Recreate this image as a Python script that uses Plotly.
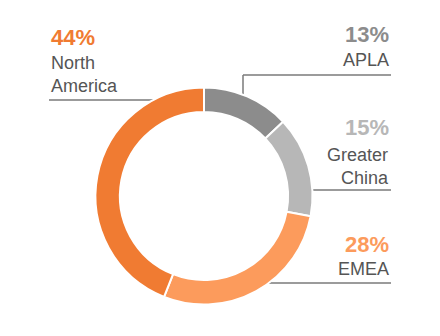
import plotly.graph_objects as go

# Revenue share by region
regions = ["APLA", "Greater China", "EMEA", "North America"]
shares = [13, 15, 28, 44]
label_lines = [["APLA"], ["Greater", "China"], ["EMEA"], ["North", "America"]]

W, H = 440, 336
slice_colors = ["#8c8c8c", "#b7b7b7", "#fc9b5c", "#f07b32"]
name_color = "#555555"
rule_color = "#7a7a7a"
FONT = "Liberation Sans, Arial, Helvetica, sans-serif"


def px(x):
    return x / W


def py(y):
    return 1 - y / H


# Donut: centre (204, 196), outer radius ~108.5 px
cx, cy, r = 204, 196, 108.5

fig = go.Figure(
    go.Pie(
        labels=regions,
        values=shares,
        sort=False,
        direction="clockwise",
        rotation=0,
        hole=0.775,
        marker=dict(colors=slice_colors, line=dict(color="white", width=2)),
        textinfo="none",
        hoverinfo="label+percent",
        showlegend=False,
        domain=dict(x=[px(cx - r), px(cx + r)], y=[py(cy + r), py(cy - r)]),
    )
)

# label placement: (anchor x, align, pct centre y, name centre y)
placements = {
    "APLA": (391, "right", 35, 60),
    "Greater China": (391, "right", 127, 166),
    "EMEA": (391, "right", 244, 269),
    "North America": (49, "left", 37, 74),
}

annotations = []
for region, share, lines, color in zip(regions, shares, label_lines, slice_colors):
    ax, align, pct_y, name_y = placements[region]
    annotations.append(
        dict(
            x=px(ax), y=py(pct_y), xref="paper", yref="paper",
            xanchor=align, yanchor="middle", align=align, showarrow=False,
            text=f"<b>{share}%</b>",
            font=dict(family=FONT, size=22, color=color),
        )
    )
    annotations.append(
        dict(
            x=px(ax), y=py(name_y), xref="paper", yref="paper",
            xanchor=align, yanchor="middle", align=align, showarrow=False,
            text="<br>".join(lines),
            font=dict(family=FONT, size=18, color=name_color),
        )
    )

# leader rules from the ring out to each label
rules = [
    (243, 97, 243, 75),
    (243, 75, 391, 75),
    (310, 190, 391, 190),
    (266, 283, 391, 283),
    (49, 100, 153, 100),
]
shapes = [
    dict(
        type="line", xref="paper", yref="paper",
        x0=px(x0), y0=py(y0), x1=px(x1), y1=py(y1),
        line=dict(color=rule_color, width=1.5), layer="below",
    )
    for x0, y0, x1, y1 in rules
]

fig.update_layout(
    width=W, height=H,
    margin=dict(l=0, r=0, t=0, b=0),
    paper_bgcolor="white", plot_bgcolor="white",
    annotations=annotations, shapes=shapes,
)

fig.write_html("out.html")
